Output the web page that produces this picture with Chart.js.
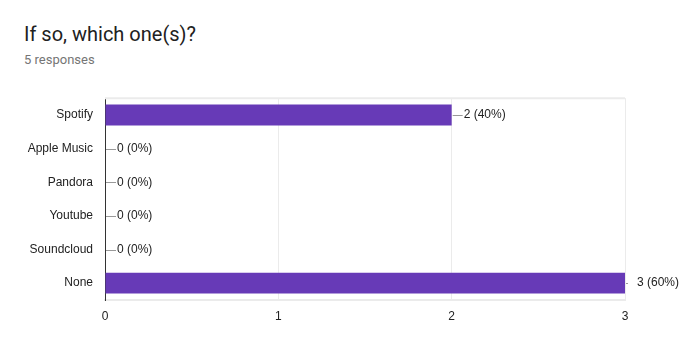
<!DOCTYPE html>
<html lang="en">
  <head>
    <meta charset="UTF-8" />
    <title>If so, which one(s)?</title>
    <script src="https://cdn.jsdelivr.net/npm/chart.js"></script>
    <style>
      html, body { margin: 0; padding: 0; background: #fff; }
      body { width: 696px; height: 337px; position: relative; overflow: hidden; }
      .titulo {
        position: absolute; left: 24px; top: 22px; margin: 0;
        font: 20px Roboto, Arial, sans-serif; color: #212121;
      }
      .subtitulo {
        position: absolute; left: 24px; top: 52px; margin: 0;
        font: 13px Roboto, Arial, sans-serif; color: #757575;
      }
      .grafico { position: absolute; left: 0; top: 79px; width: 696px; height: 258px; }
    </style>
  </head>
  <body>
    <p class="titulo">If so, which one(s)?</p>
    <p class="subtitulo">5 responses</p>
    <div class="grafico">
      <canvas id="graficoRespostas"></canvas>
    </div>
  </body>
</html>

<script>
  const categorias = ["Spotify", "Apple Music", "Pandora", "Youtube", "Soundcloud", "None"];
  const respostas = [2, 0, 0, 0, 0, 3];
  const totalRespostas = 5;
  const ticksX = [0, 1, 2, 3];

  // rótulo "n (x%)" com linha guia, igual ao Google Forms
  const rotulos = {
    id: "rotulos",
    afterDatasetsDraw(chart) {
      const ctx = chart.ctx;
      const area = chart.chartArea;
      const meta = chart.getDatasetMeta(0);
      ctx.save();
      // linha de cima da área
      ctx.strokeStyle = "#ebebeb";
      ctx.lineWidth = 2;
      ctx.beginPath();
      ctx.moveTo(area.left, area.top);
      ctx.lineTo(area.right, area.top);
      ctx.stroke();

      ctx.font = "12px 'Liberation Sans', Arial, sans-serif";
      ctx.textBaseline = "middle";
      ctx.textAlign = "left";
      meta.data.forEach((barra, i) => {
        const v = respostas[i];
        const texto = v + " (" + Math.round((v / totalRespostas) * 100) + "%)";
        const x = barra.x;
        const y = barra.y;
        const fim = Math.min(x + 11, area.right + 3);
        ctx.strokeStyle = "#999";
        ctx.lineWidth = 1;
        ctx.beginPath();
        ctx.moveTo(x + 1, Math.round(y) + 0.5);
        ctx.lineTo(fim, Math.round(y) + 0.5);
        ctx.stroke();
        ctx.fillStyle = "#222";
        ctx.fillText(texto, x + 12, y);
      });
      ctx.restore();
    },
  };

  const config = {
    type: "bar",
    data: {
      labels: categorias,
      datasets: [
        {
          label: "Respostas",
          data: respostas,
          backgroundColor: "#673ab7",
          barPercentage: 0.62,
          categoryPercentage: 1,
        },
      ],
    },
    options: {
      indexAxis: "y",
      responsive: true,
      maintainAspectRatio: false,
      animation: false,
      layout: { autoPadding: false, padding: { top: 12, right: 71, left: 0, bottom: 0 } },
      scales: {
        x: {
          min: 0,
          max: 3,
          afterBuildTicks(scale) {
            scale.ticks = ticksX.map((v) => ({ value: v }));
          },
          afterFit(scale) {
            scale.height = 37;
          },
          grid: { color: "#ebebeb", drawTicks: false },
          border: { color: "#ebebeb", width: 2 },
          ticks: {
            padding: 9,
            color: "#222",
            font: { family: "'Liberation Sans', Arial, sans-serif", size: 12 },
          },
        },
        y: {
          afterFit(scale) {
            scale.width = 105;
          },
          grid: { display: false, drawTicks: false },
          border: { color: "#333", width: 1 },
          ticks: {
            padding: 12,
            color: "#222",
            font: { family: "'Liberation Sans', Arial, sans-serif", size: 12 },
          },
        },
      },
      plugins: {
        legend: { display: false },
        tooltip: { enabled: false },
      },
    },
    plugins: [rotulos],
  };

  const meuGrafico = new Chart(document.getElementById("graficoRespostas"), config);
</script>
